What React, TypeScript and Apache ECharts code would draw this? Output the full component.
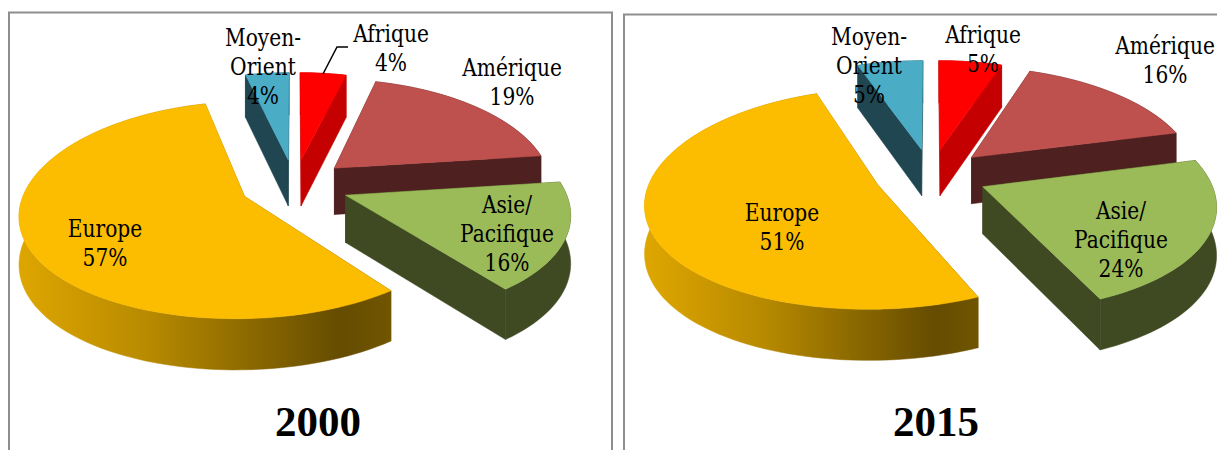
import React, { useEffect, useRef } from "react";
import * as echarts from "echarts";

const categories = ["Afrique", "Amérique", "Asie/\nPacifique", "Europe", "Moyen-\nOrient"];
// printed percentages
const labels2000 = [4, 19, 16, 57, 4];
const labels2015 = [5, 16, 24, 51, 5];
// slice shares as read from the drawn wedges
const values2000 = [4, 19, 16.6, 56.6, 3.8];
const values2015 = [5.3, 15.7, 22.3, 51.2, 5.5];
const years = ["2000", "2015"];

const topColors = ["#FF0000", "#BE504D", "#9BBB59", "#FCBD00", "#4BACC6"];
const wallColors = ["#C40000", "#4F2020", "#3F4A23", "", "#1F4651"];
const LABEL_FONT = "DejaVu Serif";
const TITLE_FONT = "Liberation Serif";

const pies = [
  {
    values: values2000, labels: labels2000, cx: 294.5, cy: 185, rx: 218, ry: 104, depth: 47,
    wall: [22, 392],
    labelPos: [[391, 48.5], [512, 82.5], [507, 234], [105, 243], [263, 67]],
    titleX: 318,
  },
  {
    values: values2015, labels: labels2015, cx: 931, cy: 175, rx: 226, ry: 106, depth: 47,
    wall: [650, 981],
    labelPos: [[983, 49.5], [1165, 60.5], [1121, 240], [782, 227.5], [869, 66]],
    titleX: 936,
  },
];

const EXPLODE = 0.25;
const PX = 0.15;
const PY = 0.125;

function project(p: any, X: number, Y: number, down: number) {
  const x = p.cx + (p.rx * X) / (1 + PX * Y);
  const y = p.cy - (p.ry * Y) / (1 + PY * Y) + down * p.depth * (1 - 0.08 * Y);
  return [x, y];
}

function buildSlices(p: any) {
  const total = p.values.reduce((a: number, b: number) => a + b, 0);
  let acc = 0;
  const slices = p.values.map((v: number, i: number) => {
    const a0 = (acc / total) * Math.PI * 2;
    acc += v;
    const a1 = (acc / total) * Math.PI * 2;
    const mid = (a0 + a1) / 2;
    return { i, a0, a1, ox: EXPLODE * Math.sin(mid), oy: EXPLODE * Math.cos(mid) };
  });
  return slices;
}

function renderSlice(p: any, s: any) {
  const n = Math.max(2, Math.ceil((s.a1 - s.a0) / (Math.PI / 90)));
  const rimTop: number[][] = [];
  const rimBot: number[][] = [];
  for (let k = 0; k <= n; k++) {
    const a = s.a0 + ((s.a1 - s.a0) * k) / n;
    const X = s.ox + Math.sin(a);
    const Y = s.oy + Math.cos(a);
    rimTop.push(project(p, X, Y, 0));
    rimBot.push(project(p, X, Y, 1));
  }
  const apexTop = project(p, s.ox, s.oy, 0);
  const apexBot = project(p, s.ox, s.oy, 1);
  const wallFill =
    wallColors[s.i] ||
    new echarts.graphic.LinearGradient(
      p.wall[0], 0, p.wall[1], 0,
      [
        { offset: 0, color: "#DDA500" },
        { offset: 0.35, color: "#B68900" },
        { offset: 0.86, color: "#654C00" },
        { offset: 1, color: "#715500" },
      ],
      true as any
    );
  const poly = (points: number[][], fill: any) => ({
    type: "polygon",
    shape: { points },
    style: { fill, stroke: fill, lineWidth: 0.5 },
  });
  return {
    type: "group",
    children: [
      poly([apexTop, rimTop[0], rimBot[0], apexBot], wallFill),
      poly([apexTop, rimTop[n], rimBot[n], apexBot], wallFill),
      poly([...rimTop, ...rimBot.slice().reverse()], wallFill),
      poly([apexTop, ...rimTop], topColors[s.i]),
    ],
  };
}

function pieSeries(p: any) {
  const slices = buildSlices(p);
  const order = slices.slice().sort((a: any, b: any) => b.oy - a.oy);
  return {
    type: "custom",
    coordinateSystem: "none",
    silent: true,
    z: 2,
    data: order.map((s: any) => [s.i, p.values[s.i]]),
    renderItem: (params: any) => renderSlice(p, order[params.dataIndex]),
  };
}

function labelElements(p: any) {
  return p.labels.map((v: number, i: number) => ({
    type: "text",
    z: 100,
    x: p.labelPos[i][0],
    y: p.labelPos[i][1],
    scaleX: 0.86,
    style: {
      text: `${categories[i]}\n${v}%`,
      fill: "#000",
      fontFamily: LABEL_FONT,
      fontWeight: "normal",
      fontSize: 23.5,
      lineHeight: 29,
      align: "center",
      verticalAlign: "middle",
    },
  }));
}

export default function App() {
  const ref = useRef<HTMLDivElement>(null);
  useEffect(() => {
    const chart = echarts.init(ref.current!, null, { renderer: "svg" });
    chart.setOption({
      animation: false,
      backgroundColor: "#fff",
      title: pies.map((p, i) => ({
        text: years[i],
        left: p.titleX,
        top: 399,
        padding: 0,
        textAlign: "center",
        textStyle: { fontFamily: TITLE_FONT, fontWeight: "bold", fontSize: 43, color: "#000", lineHeight: 44 },
      })),
      graphic: [
        { type: "rect", shape: { x: 9, y: 12.5, width: 603, height: 460 }, style: { fill: "none", stroke: "#8E8E8E", lineWidth: 2 } },
        { type: "rect", shape: { x: 624, y: 14.5, width: 620, height: 460 }, style: { fill: "none", stroke: "#8E8E8E", lineWidth: 2 } },
        { type: "polyline", z: 100, shape: { points: [[323, 74], [337, 47], [348, 47]] }, style: { fill: "none", stroke: "#000", lineWidth: 1.5 } },
        ...pies.flatMap(labelElements),
      ],
      series: pies.map(pieSeries),
    });
    return () => chart.dispose();
  }, []);
  return <div ref={ref} style={{ position: "absolute", left: 0, top: 0, width: 1217, height: 450 }} />;
}
